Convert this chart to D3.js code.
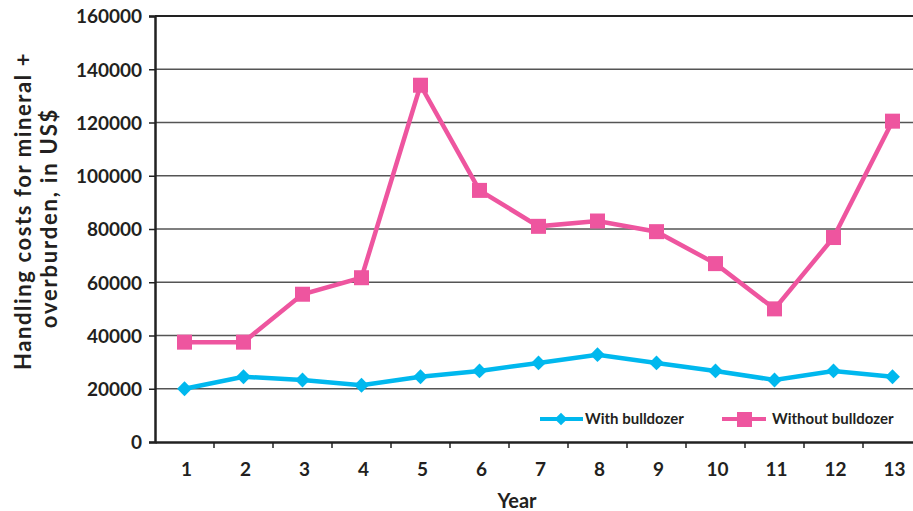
<!DOCTYPE html>
<html>
<head>
<meta charset="utf-8">
<script src="https://cdn.jsdelivr.net/npm/d3@7"></script>
<style>
  body { margin: 0; background: #fff; }
  svg { display: block; font-family: Lato, "Open Sans", sans-serif; font-weight: bold; }
</style>
</head>
<body>
<div id="chart"></div>
<script>
// data
var years = ["1","2","3","4","5","6","7","8","9","10","11","12","13"];
var withBulldozer = [20000,24500,23300,21300,24500,26700,29700,32800,29700,26700,23300,26700,24500];
var withoutBulldozer = [37500,37500,55500,61700,134000,94500,81000,83000,79000,67000,50000,76800,120500];
var yTicks = [0,20000,40000,60000,80000,100000,120000,140000,160000];

draw();

function draw() {
    "use strict";
    var width = 913, height = 511;
    var plotLeft = 155, plotTop = 16, plotBottom = 442;

    var svg = d3.select('#chart')
        .append('svg')
        .attr('width', width)
        .attr('height', height);

    var x = d3.scaleBand().domain(years).range([plotLeft, 922]);
    var y = d3.scaleLinear().domain([0, 160000]).range([plotBottom, plotTop]);

    // gridlines
    svg.append('g')
        .selectAll('line')
        .data(yTicks.slice(1))
        .enter()
        .append('line')
        .attr('x1', plotLeft).attr('x2', width)
        .attr('y1', function(d) { return y(d); })
        .attr('y2', function(d) { return y(d); })
        .attr('stroke', function(d) { return d == 160000 ? '#222' : '#555'; })
        .attr('stroke-width', function(d) { return d == 160000 ? 2 : 1.3; });

    // y axis
    var yAxis = svg.append('g')
        .attr('transform', 'translate(' + plotLeft + ',0)')
        .call(d3.axisLeft(y).tickValues(yTicks).tickSize(6).tickPadding(7).tickFormat(d3.format('d')));
    yAxis.select('.domain').attr('stroke', '#222').attr('stroke-width', 2.5);
    yAxis.selectAll('.tick line').attr('stroke', '#222').attr('stroke-width', 1.5);
    yAxis.selectAll('text')
        .style('font-size', '19px')
        .style('font-family', 'Lato, sans-serif')
        .style('font-weight', 'bold')
        .attr('fill', '#231f20')
        .attr('dy', '0.36em');

    // x axis
    var xAxis = svg.append('g')
        .attr('transform', 'translate(0,' + plotBottom + ')')
        .call(d3.axisBottom(x).tickSize(0).tickPadding(21));
    xAxis.select('.domain').attr('stroke', '#222').attr('stroke-width', 2.5);
    xAxis.selectAll('text')
        .style('font-size', '19px')
        .style('font-family', 'Lato, sans-serif')
        .style('font-weight', 'bold')
        .attr('fill', '#231f20')
        .attr('dx', '2px');

    // tick marks between categories
    svg.append('g')
        .selectAll('line')
        .data(years.slice(1))
        .enter()
        .append('line')
        .attr('x1', function(d) { return x(d); })
        .attr('x2', function(d) { return x(d); })
        .attr('y1', plotBottom).attr('y2', plotBottom + 6)
        .attr('stroke', '#222').attr('stroke-width', 1.5);

    // axis titles
    svg.append('text')
        .attr('x', 517)
        .attr('y', 508)
        .attr('text-anchor', 'middle')
        .style('font-size', '20px')
        .attr('fill', '#231f20')
        .text('Year');

    svg.append('text')
        .attr('transform', 'translate(31,211) rotate(-90)')
        .attr('text-anchor', 'middle')
        .style('font-size', '22px')
        .style('letter-spacing', '1.6px')
        .attr('fill', '#231f20')
        .text('Handling costs for mineral +');
    svg.append('text')
        .attr('transform', 'translate(57,218) rotate(-90)')
        .attr('text-anchor', 'middle')
        .style('font-size', '22px')
        .style('letter-spacing', '1.8px')
        .attr('fill', '#231f20')
        .text('overburden, in US$');

    // lines
    var line = function(vals) {
        return d3.line()
            .x(function(d, i) { return x(years[i]) + x.bandwidth() / 2; })
            .y(function(d) { return y(d); })(vals);
    };

    var cyan = '#00b8ee', pink = '#ee559f';

    svg.append('path').attr('d', line(withoutBulldozer))
        .attr('fill', 'none').attr('stroke', pink).attr('stroke-width', 4.5);
    svg.append('path').attr('d', line(withBulldozer))
        .attr('fill', 'none').attr('stroke', cyan).attr('stroke-width', 4.5);

    var diamond = d3.symbol().type(d3.symbolSquare).size(110);

    svg.append('g').selectAll('rect')
        .data(withoutBulldozer)
        .enter()
        .append('rect')
        .attr('x', function(d, i) { return x(years[i]) + x.bandwidth() / 2 - 7.5; })
        .attr('y', function(d) { return y(d) - 7.5; })
        .attr('width', 15).attr('height', 15)
        .attr('fill', pink);

    svg.append('g').selectAll('path')
        .data(withBulldozer)
        .enter()
        .append('path')
        .attr('d', diamond)
        .attr('transform', function(d, i) {
            return 'translate(' + (x(years[i]) + x.bandwidth() / 2) + ',' + y(d) + ') rotate(45)';
        })
        .attr('fill', cyan);

    // legend
    var lg = svg.append('g').style('font-size', '15px');
    lg.append('line').attr('x1', 540).attr('x2', 583).attr('y1', 419).attr('y2', 419)
        .attr('stroke', cyan).attr('stroke-width', 4);
    lg.append('path').attr('d', d3.symbol().type(d3.symbolSquare).size(80))
        .attr('transform', 'translate(561,419) rotate(45)').attr('fill', cyan);
    lg.append('text').attr('x', 585).attr('y', 424).attr('fill', '#231f20').text('With bulldozer');

    lg.append('line').attr('x1', 722).attr('x2', 766).attr('y1', 419).attr('y2', 419)
        .attr('stroke', pink).attr('stroke-width', 4);
    lg.append('rect').attr('x', 737).attr('y', 412).attr('width', 15).attr('height', 15).attr('fill', pink);
    lg.append('text').attr('x', 772).attr('y', 424).attr('fill', '#231f20').text('Without bulldozer');
}
</script>
</body>
</html>
